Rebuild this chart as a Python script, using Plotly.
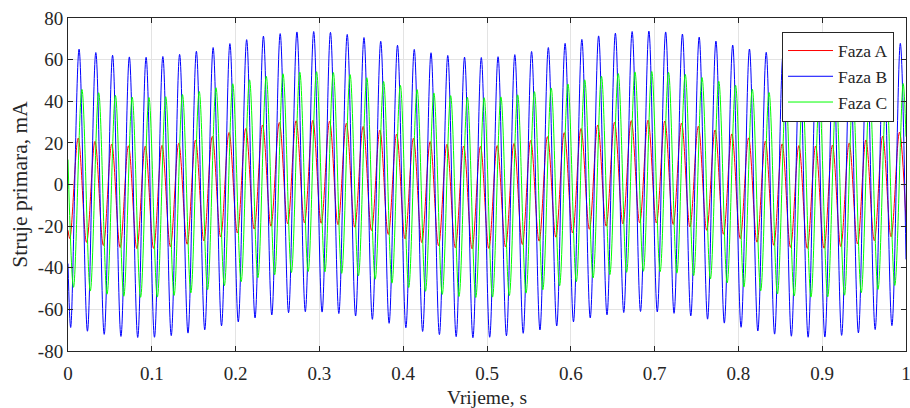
import plotly.graph_objects as go

# ---- data: extreme (peak/trough) samples, plus end points ----
t_faza_a = [0.0,
    0.0022, 0.0122, 0.0222, 0.0322, 0.0422, 0.0522, 0.0622, 0.0722, 0.0822, 0.0922,
    0.1022, 0.1122, 0.1222, 0.1322, 0.1422, 0.1522, 0.1622, 0.1722, 0.1822, 0.1922,
    0.2022, 0.2122, 0.2222, 0.2322, 0.2422, 0.2522, 0.2622, 0.2722, 0.2822, 0.2922,
    0.3022, 0.3122, 0.3222, 0.3322, 0.3422, 0.3522, 0.3622, 0.3722, 0.3822, 0.3922,
    0.4022, 0.4122, 0.4222, 0.4322, 0.4422, 0.4522, 0.4622, 0.4722, 0.4822, 0.4922,
    0.5022, 0.5122, 0.5222, 0.5322, 0.5422, 0.5522, 0.5622, 0.5722, 0.5822, 0.5922,
    0.6022, 0.6122, 0.6222, 0.6322, 0.6422, 0.6522, 0.6622, 0.6722, 0.6822, 0.6922,
    0.7022, 0.7122, 0.7222, 0.7322, 0.7422, 0.7522, 0.7622, 0.7722, 0.7822, 0.7922,
    0.8022, 0.8122, 0.8222, 0.8322, 0.8422, 0.8522, 0.8622, 0.8722, 0.8822, 0.8922,
    0.9022, 0.9122, 0.9222, 0.9322, 0.9422, 0.9522, 0.9622, 0.9722, 0.9822, 0.9922,
    1.0]
faza_a = [-22.0,
    -26.0, 22.3, -27.8, 20.7, -29.3, 19.4, -30.3, 18.6, -30.8, 18.4,
    -30.7, 18.8, -29.9, 19.8, -28.7, 21.3, -27.1, 23.1, -25.2, 25.0,
    -23.3, 26.9, -21.4, 28.6, -20.0, 29.8, -18.9, 30.6, -18.4, 30.8,
    -18.6, 30.4, -19.3, 29.4, -20.5, 27.9, -22.1, 26.1, -24.0, 24.2,
    -26.1, 22.2, -27.9, 20.6, -29.4, 19.3, -30.4, 18.5, -30.9, 18.3,
    -30.7, 18.7, -30.0, 19.7, -28.8, 21.2, -27.2, 23.0, -25.3, 24.9,
    -23.3, 26.9, -21.5, 28.6, -20.0, 29.9, -18.9, 30.7, -18.4, 30.9,
    -18.5, 30.5, -19.2, 29.5, -20.4, 28.0, -22.0, 26.2, -23.9, 24.3,
    -26.0, 22.4, -27.7, 20.8, -29.2, 19.5, -30.2, 18.7, -30.7, 18.5,
    -30.6, 18.9, -29.8, 19.9, -28.6, 21.4, -27.0, 23.2, -25.1, 25.1,
    -18.0]

t_faza_b = [0.0,
    0.0032, 0.0132, 0.0232, 0.0332, 0.0432, 0.0532, 0.0632, 0.0732, 0.0832, 0.0932,
    0.1032, 0.1132, 0.1232, 0.1332, 0.1432, 0.1532, 0.1632, 0.1732, 0.1832, 0.1932,
    0.2032, 0.2132, 0.2232, 0.2332, 0.2432, 0.2532, 0.2632, 0.2732, 0.2832, 0.2932,
    0.3032, 0.3132, 0.3232, 0.3332, 0.3432, 0.3532, 0.3632, 0.3732, 0.3832, 0.3932,
    0.4032, 0.4132, 0.4232, 0.4332, 0.4432, 0.4532, 0.4632, 0.4732, 0.4832, 0.4932,
    0.5032, 0.5132, 0.5232, 0.5332, 0.5432, 0.5532, 0.5632, 0.5732, 0.5832, 0.5932,
    0.6032, 0.6132, 0.6232, 0.6332, 0.6432, 0.6532, 0.6632, 0.6732, 0.6832, 0.6932,
    0.7032, 0.7132, 0.7232, 0.7332, 0.7432, 0.7532, 0.7632, 0.7732, 0.7832, 0.7932,
    0.8032, 0.8132, 0.8232, 0.8332, 0.8432, 0.8532, 0.8632, 0.8732, 0.8832, 0.8932,
    0.9032, 0.9132, 0.9232, 0.9332, 0.9432, 0.9532, 0.9632, 0.9732, 0.9832, 0.9932,
    1.0]
faza_b = [-38.0,
    -68.7, 65.0, -70.5, 63.4, -72.0, 62.1, -73.0, 61.3, -73.5, 61.1,
    -73.4, 61.5, -72.6, 62.5, -71.4, 64.0, -69.8, 65.8, -67.9, 67.7,
    -66.0, 69.6, -64.1, 71.3, -62.7, 72.5, -61.6, 73.3, -61.1, 73.5,
    -61.3, 73.1, -62.0, 72.1, -63.2, 70.6, -64.8, 68.8, -66.7, 66.9,
    -68.8, 64.9, -70.6, 63.3, -72.1, 62.0, -73.1, 61.2, -73.6, 61.0,
    -73.4, 61.4, -72.7, 62.4, -71.5, 63.9, -69.9, 65.8, -68.0, 67.8,
    -66.0, 69.7, -64.1, 71.4, -62.6, 72.7, -61.5, 73.5, -61.0, 73.7,
    -61.2, 73.3, -61.9, 72.3, -63.1, 70.8, -64.7, 68.9, -66.6, 67.0,
    -68.6, 65.1, -70.4, 63.5, -71.9, 62.2, -72.9, 61.4, -73.4, 61.2,
    -73.3, 61.6, -72.5, 62.6, -71.3, 64.1, -69.7, 65.9, -67.8, 67.8,
    -36.0]

t_faza_c = [0.0,
    0.0066, 0.0166, 0.0266, 0.0366, 0.0466, 0.0566, 0.0666, 0.0766, 0.0866, 0.0966,
    0.1066, 0.1166, 0.1266, 0.1366, 0.1466, 0.1566, 0.1666, 0.1766, 0.1866, 0.1966,
    0.2066, 0.2166, 0.2266, 0.2366, 0.2466, 0.2566, 0.2666, 0.2766, 0.2866, 0.2966,
    0.3066, 0.3166, 0.3266, 0.3366, 0.3466, 0.3566, 0.3666, 0.3766, 0.3866, 0.3966,
    0.4066, 0.4166, 0.4266, 0.4366, 0.4466, 0.4566, 0.4666, 0.4766, 0.4866, 0.4966,
    0.5066, 0.5166, 0.5266, 0.5366, 0.5466, 0.5566, 0.5666, 0.5766, 0.5866, 0.5966,
    0.6066, 0.6166, 0.6266, 0.6366, 0.6466, 0.6566, 0.6666, 0.6766, 0.6866, 0.6966,
    0.7066, 0.7166, 0.7266, 0.7366, 0.7466, 0.7566, 0.7666, 0.7766, 0.7866, 0.7966,
    0.8066, 0.8166, 0.8266, 0.8366, 0.8466, 0.8566, 0.8666, 0.8766, 0.8866, 0.8966,
    0.9066, 0.9166, 0.9266, 0.9366, 0.9466, 0.9566, 0.9666, 0.9766, 0.9866, 0.9966,
    1.0]
faza_c = [12.0,
    -49.4, 45.7, -51.2, 44.1, -52.7, 42.8, -53.7, 42.0, -54.2, 41.8,
    -54.1, 42.2, -53.3, 43.2, -52.1, 44.7, -50.5, 46.5, -48.6, 48.4,
    -46.7, 50.3, -44.8, 52.0, -43.4, 53.2, -42.3, 54.0, -41.8, 54.2,
    -42.0, 53.8, -42.7, 52.8, -43.9, 51.3, -45.5, 49.5, -47.4, 47.6,
    -49.5, 45.6, -51.3, 44.0, -52.8, 42.7, -53.8, 41.9, -54.3, 41.7,
    -54.1, 42.1, -53.4, 43.1, -52.2, 44.6, -50.6, 46.4, -48.7, 48.3,
    -46.7, 50.3, -44.9, 52.0, -43.3, 53.3, -42.2, 54.1, -41.7, 54.3,
    -41.9, 53.9, -42.6, 52.9, -43.8, 51.4, -45.4, 49.6, -47.3, 47.7,
    -49.3, 45.8, -51.1, 44.2, -52.6, 42.9, -53.6, 42.1, -54.1, 41.9,
    -54.0, 42.3, -53.2, 43.3, -52.0, 44.8, -50.4, 46.6, -48.5, 48.5,
    23.0]

series_names = ["Faza A", "Faza B", "Faza C"]
series_colors = ["#ff0000", "#0000ff", "#00ff00"]

x_tick_vals = [0, 0.1, 0.2, 0.3, 0.4, 0.5, 0.6, 0.7, 0.8, 0.9, 1]
x_tick_text = ["0", "0.1", "0.2", "0.3", "0.4", "0.5", "0.6", "0.7", "0.8", "0.9", "1"]
y_tick_vals = [-80, -60, -40, -20, 0, 20, 40, 60, 80]
y_tick_text = ["-80", "-60", "-40", "-20", "0", "20", "40", "60", "80"]

x_title = "Vrijeme, s"
y_title = "Struje primara, mA"

# ---- figure ----
FONT = "Liberation Serif"
INK = "#262626"
GRID = "#e3e3e3"

fig = go.Figure()
for name, tx, vy, col in zip(series_names,
                             [t_faza_a, t_faza_b, t_faza_c],
                             [faza_a, faza_b, faza_c],
                             series_colors):
    fig.add_trace(go.Scatter(
        x=tx, y=vy, name=name, mode="lines",
        line=dict(color=col, width=1, shape="spline", smoothing=1),
    ))

axis_common = dict(
    showgrid=True, gridcolor=GRID, gridwidth=1,
    showline=True, linecolor=INK, linewidth=1, mirror="ticks",
    ticks="inside", ticklen=5, tickcolor=INK, tickwidth=1,
    zeroline=False, ticklabeloverflow="allow",
    tickfont=dict(family=FONT, size=19, color=INK),
)

fig.update_layout(
    width=910, height=408,
    margin=dict(l=68, r=4, t=18, b=57, autoexpand=False),
    paper_bgcolor="white", plot_bgcolor="white",
    font=dict(family=FONT, color=INK),
    xaxis=dict(range=[0, 1], tickvals=x_tick_vals, ticktext=x_tick_text,
               ticklabelstandoff=5,
               title=dict(text=x_title, font=dict(family=FONT, size=19.5, color=INK), standoff=8),
               **axis_common),
    yaxis=dict(range=[-80, 80], tickvals=y_tick_vals, ticktext=y_tick_text,
               title=dict(text=y_title, font=dict(family=FONT, size=21.5, color=INK), standoff=4),
               **axis_common),
    legend=dict(x=0.9857, y=0.959, xanchor="right", yanchor="top",
                bgcolor="white", bordercolor=INK, borderwidth=1,
                font=dict(family=FONT, size=17.5, color=INK),
                tracegroupgap=0, itemwidth=45),
    showlegend=True,
)

fig.write_html("out.html",
               config={"displayModeBar": False},
               post_script="document.body.style.margin='0';document.body.style.overflow='hidden';")
